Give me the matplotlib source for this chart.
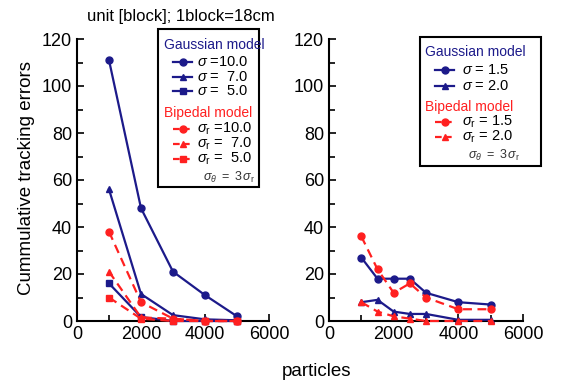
from matplotlib import pyplot as plt
from matplotlib.lines import Line2D
from matplotlib.patches import Rectangle
from matplotlib.ticker import MultipleLocator

plt.rcParams["font.family"] = ["Liberation Sans", "DejaVu Sans"]
plt.rcParams["mathtext.fontset"] = "custom"
plt.rcParams["mathtext.rm"] = "Liberation Sans"
plt.rcParams["mathtext.it"] = "Liberation Sans:italic"

NAVY = "#1c1a8a"
RED = "#ff2020"
W, H = 570, 383

# left panel: Gaussian vs Bipedal, large sigma
x_left = [1000, 2000, 3000, 4000, 5000]
gauss_10 = [111, 48, 21, 11, 2]
gauss_7 = [56, 11.5, 2.5, 0.7, 0.3]
gauss_5 = [16, 1.7, 0, 0, 0]
biped_10 = [38, 8, 1, 0, 0]
biped_7 = [21, 1.5, 1, 0, 0]
biped_5 = [10, 1, 0, 0, 0]

# right panel: small sigma
x_right = [1000, 1500, 2000, 2500, 3000, 4000, 5000]
gauss_15 = [27, 18, 18, 18, 12, 8, 7]
gauss_20 = [8, 9, 4, 3, 3, 0.5, 0.5]
biped_15 = [36, 22, 12, 16, 10, 5, 5]
biped_20 = [8, 4, 2, 1, 0, 0, 0]

left_keys = [r"$\sigma$ =10.0", r"$\sigma$ =  7.0", r"$\sigma$ =  5.0"]
left_bkeys = [r"$\sigma_{\rm r}$ =10.0", r"$\sigma_{\rm r}$ =  7.0", r"$\sigma_{\rm r}$ =  5.0"]
right_keys = [r"$\sigma$ = 1.5", r"$\sigma$ = 2.0"]
right_bkeys = [r"$\sigma_{\rm r}$ = 1.5", r"$\sigma_{\rm r}$ = 2.0"]
markers = ["o", "^", "s"]


def fx(px):
    return px / W


def fy(py):
    return 1 - py / H


def style_axes(ax):
    ax.set_xlim(0, 6000)
    ax.set_ylim(0, 120)
    ax.spines["top"].set_visible(False)
    ax.spines["right"].set_visible(False)
    ax.spines["left"].set_linewidth(1.5)
    ax.spines["bottom"].set_linewidth(1.5)
    ax.xaxis.set_major_locator(MultipleLocator(2000))
    ax.xaxis.set_minor_locator(MultipleLocator(1000))
    ax.yaxis.set_major_locator(MultipleLocator(20))
    ax.yaxis.set_minor_locator(MultipleLocator(10))
    ax.tick_params(which="both", direction="in", width=1.2, labelsize=13)
    ax.tick_params(which="major", length=5)
    ax.tick_params(which="minor", length=4)


def series(ax, x, y, color, marker, dashed):
    ls = (0, (4, 2.5)) if dashed else "-"
    ax.plot(x, y, color=color, ls=ls, lw=1.6, marker=marker, ms=5,
            clip_on=False, zorder=3)


def draw_key(fig, box, head_x, seg, text_x, rows, theta):
    x0, y0, x1, y1 = box
    fig.add_artist(Rectangle((fx(x0), fy(y1)), fx(x1) - fx(x0), fy(y0) - fy(y1),
                             transform=fig.transFigure, fill=False,
                             edgecolor="black", lw=1.5))
    for kind, y, label, color, marker, dashed in rows:
        if kind == "head":
            fig.text(fx(head_x), fy(y), label, color=color, fontsize=10,
                     va="center", ha="left")
        else:
            ls = (0, (3, 1.5)) if dashed else "-"
            fig.add_artist(Line2D([fx(seg[0]), fx(seg[1])], [fy(y), fy(y)],
                                  transform=fig.transFigure, color=color,
                                  ls=ls, lw=1.6))
            fig.add_artist(Line2D([fx((seg[0] + seg[1]) / 2)], [fy(y)],
                                  transform=fig.transFigure, color=color,
                                  marker=marker, ms=5))
            fig.text(fx(text_x), fy(y), label, color="black", fontsize=10.5,
                     va="center", ha="left")
    fig.text(fx(theta[0]), fy(theta[1]), r"$\sigma_\theta\ =\ 3\,\sigma_{\rm r}$",
             fontsize=9, ha="right", va="center", color="#333333")


fig = plt.figure(figsize=(5.7, 3.83), dpi=100)
ax1 = fig.add_axes([fx(77), fy(321), fx(269) - fx(77), fy(39) - fy(321)])
ax2 = fig.add_axes([fx(329), fy(321), fx(523) - fx(329), fy(39) - fy(321)])

for g, m in zip([gauss_10, gauss_7, gauss_5], markers):
    series(ax1, x_left, g, NAVY, m, False)
for b, m in zip([biped_10, biped_7, biped_5], markers):
    series(ax1, x_left, b, RED, m, True)
for g, m in zip([gauss_15, gauss_20], markers):
    series(ax2, x_right, g, NAVY, m, False)
for b, m in zip([biped_15, biped_20], markers):
    series(ax2, x_right, b, RED, m, True)

style_axes(ax1)
style_axes(ax2)

fig.text(fx(181), fy(16), "unit [block]; 1block=18cm", fontsize=12,
         ha="center", va="center")
fig.text(fx(27), fy(178), "Cummulative tracking errors", fontsize=13.5,
         rotation=90, ha="center", va="center")
fig.text(fx(317), fy(371), "particles", fontsize=13.5, ha="center", va="center")

rows_left = [("head", 45, "Gaussian model", NAVY, None, False)]
rows_left += [("key", y, t, NAVY, m, False)
              for y, t, m in zip([62, 77, 91], left_keys, markers)]
rows_left += [("head", 113, "Bipedal model", RED, None, False)]
rows_left += [("key", y, t, RED, m, True)
              for y, t, m in zip([129, 144, 159], left_bkeys, markers)]
draw_key(fig, (158, 29, 259, 187), 164, (173, 192), 197, rows_left, (255, 177))

rows_right = [("head", 52, "Gaussian model", NAVY, None, False)]
rows_right += [("key", y, t, NAVY, m, False)
               for y, t, m in zip([70, 86], right_keys, markers)]
rows_right += [("head", 107, "Bipedal model", RED, None, False)]
rows_right += [("key", y, t, RED, m, True)
               for y, t, m in zip([122, 137], right_bkeys, markers)]
draw_key(fig, (420, 37, 541, 166), 425, (435, 454), 462, rows_right, (520, 155))

fig.savefig("out.png", dpi=100)
